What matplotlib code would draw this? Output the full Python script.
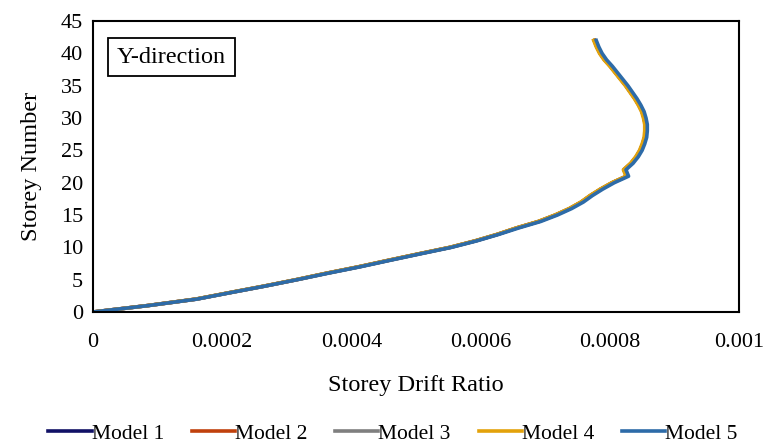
import matplotlib
matplotlib.use("Agg")
import matplotlib.pyplot as plt

plt.rcParams['font.family'] = ['Liberation Serif', 'DejaVu Serif']

# storey numbers and drift ratios
storeys = list(range(0, 43))

drift_m1 = [0, 0.000085, 0.000160, 0.000212, 0.000265, 0.000315, 0.000362, 0.000412,
            0.000458, 0.000505, 0.000553, 0.000592, 0.000626, 0.000656, 0.000690,
            0.000716, 0.000738, 0.000756, 0.000770, 0.000786, 0.000804, 0.000826,
            0.000822, 0.000833, 0.000841, 0.000847, 0.000851, 0.000854, 0.000855,
            0.000855, 0.000853, 0.000850, 0.000845, 0.000839, 0.000832, 0.000825,
            0.000817, 0.000809, 0.000801, 0.000792, 0.000785, 0.000780, 0.000776]
drift_m2 = drift_m1
drift_m3 = drift_m1
drift_m4 = [0, 0.000085, 0.000159, 0.000211, 0.000264, 0.000314, 0.000361, 0.000411,
            0.000457, 0.000504, 0.000552, 0.000591, 0.000625, 0.000655, 0.000689,
            0.000715, 0.000737, 0.000755, 0.000769, 0.000785, 0.000803, 0.000825,
            0.000821, 0.000832, 0.000840, 0.000846, 0.000850, 0.000853, 0.000854,
            0.000854, 0.000852, 0.000849, 0.000844, 0.000838, 0.000831, 0.000824,
            0.000816, 0.000808, 0.000800, 0.000791, 0.000784, 0.000779, 0.000775]
drift_m5 = [0, 0.000086, 0.000161, 0.000213, 0.000266, 0.000316, 0.000364, 0.000414,
            0.000460, 0.000507, 0.000555, 0.000594, 0.000628, 0.000659, 0.000693,
            0.000719, 0.000741, 0.000759, 0.000773, 0.000789, 0.000807, 0.000829,
            0.000825, 0.000836, 0.000844, 0.000850, 0.000854, 0.000857, 0.000858,
            0.000858, 0.000856, 0.000853, 0.000848, 0.000842, 0.000835, 0.000828,
            0.000820, 0.000812, 0.000804, 0.000795, 0.000788, 0.000783, 0.000779]

labels = ["Model 1", "Model 2", "Model 3", "Model 4", "Model 5"]
colors = ["#111166", "#C0410C", "#7F7F7F", "#E3A20B", "#2D6BA8"]
series = [drift_m1, drift_m2, drift_m3, drift_m4, drift_m5]

fig = plt.figure(figsize=(7.66, 4.46), dpi=100)
ax = fig.add_axes([0.1214, 0.3004, 0.8434, 0.6525])

for d, lab, c in zip(series, labels, colors):
    ax.plot(d, storeys, color=c, lw=2.6, label=lab)

ax.set_xlim(0, 0.001)
ax.set_ylim(0, 45)
ax.set_xticks([0, 0.0002, 0.0004, 0.0006, 0.0008, 0.001])
ax.set_xticklabels(["0", "0.0002", "0.0004", "0.0006", "0.0008", "0.001"])
ax.set_yticks(range(0, 46, 5))
ax.tick_params(length=0, labelsize=16)
ax.tick_params(axis='x', pad=15)
ax.tick_params(axis='y', pad=7)
for s in ax.spines.values():
    s.set_linewidth(1.5)
    s.set_color("black")

ax.set_xlabel("Storey Drift Ratio", fontsize=17.5, labelpad=17)
ax.set_ylabel("Storey Number", fontsize=17.5, labelpad=14)

ax.text(0.037, 0.876, "Y-direction", transform=ax.transAxes, fontsize=17.5,
        va="center", ha="left",
        bbox=dict(boxstyle="square,pad=0.35", fc="white", ec="black", lw=1.3))

fig.legend(loc="center", bbox_to_anchor=(0.513, 0.027), ncol=5, frameon=False,
           fontsize=15.5, handlelength=2.0, handletextpad=0.0, columnspacing=1.3)

fig.savefig("out.png", dpi=100)
